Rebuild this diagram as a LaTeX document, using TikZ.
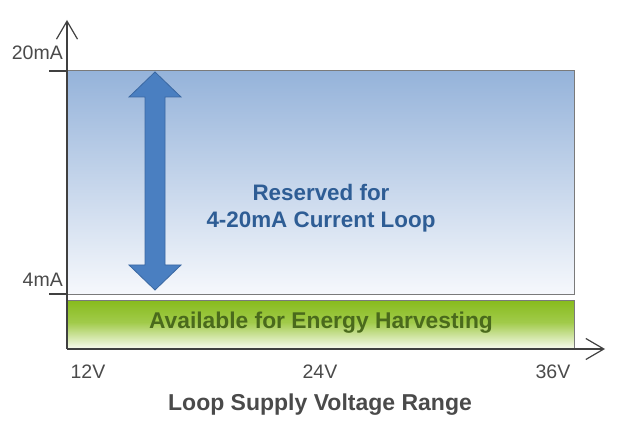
\documentclass[tikz,border=0pt]{standalone}
\usepackage{fontspec}
\setmainfont{Liberation Sans}
\usetikzlibrary{arrows.meta}
\definecolor{axisgrey}{HTML}{404040}
\definecolor{labgrey}{HTML}{4A4A4A}
\definecolor{bluetop}{HTML}{95B3DA}
\definecolor{bluebot}{HTML}{F6F8FC}
\definecolor{greentop}{HTML}{88BC1E}
\definecolor{greenmid}{HTML}{A2CB4C}
\definecolor{greenbot}{HTML}{FAFCF2}
\definecolor{arrowfill}{HTML}{4A7FC1}
\definecolor{arrowdraw}{HTML}{3A68A2}
\definecolor{bluetext}{HTML}{2E5D95}
\definecolor{greentext}{HTML}{4A6A1C}
\definecolor{boxedge}{HTML}{7A7A7A}
\begin{document}
\begin{tikzpicture}[x=1pt,y=1pt,
  axisline/.style={draw=axisgrey,line width=1.2pt},
  axlabel/.style={text=labgrey,font=\fontsize{19.5}{21}\selectfont,inner sep=0pt},
  boxline/.style={draw=boxedge,line width=1pt}]
\useasboundingbox (0,0) rectangle (630,429);
% boxes
\shade[top color=bluetop,bottom color=bluebot] (67,134) rectangle (574,358);
\draw[boxline] (67,134) rectangle (574,358);
\shade[top color=greentop,bottom color=greenmid] (67,106) rectangle (574,128);
\shade[top color=greenmid,bottom color=greenbot] (67,80) rectangle (574,106.5);
\draw[boxline] (67,80) rectangle (574,128);
% axes
\coordinate (O) at (67,80);
\coordinate (ytop) at (67,409);
\coordinate (xend) at (605,80);
\draw[axisline,-{Straight Barb[length=18pt,width=21pt,line width=1.2pt]}] (O) -- (ytop);
\draw[axisline,-{Straight Barb[length=18pt,width=21pt,line width=1.2pt]}] (O) -- (xend);
% ticks
\coordinate (t20a) at (49,358); \coordinate (t20b) at (67,358);
\coordinate (t4a) at (49,135); \coordinate (t4b) at (67,135);
\draw[axisline] (t20a) -- (t20b);
\draw[axisline] (t4a) -- (t4b);
\node[axlabel,anchor=east] (l20) at (63,376) {20mA};
\node[axlabel,anchor=east] (l4) at (63,149) {4mA};
\node[axlabel] (v12) at (88,57) {12V};
\node[axlabel] (v24) at (320,57) {24V};
\node[axlabel] (v36) at (553,57) {36V};
\node[text=labgrey,font=\fontsize{23}{25}\selectfont\bfseries,inner sep=0pt] (title) at (320,24) {Loop Supply Voltage Range};
% double arrow
\draw[fill=arrowfill,draw=arrowdraw,line width=0.8pt,line join=miter]
  (155,357) -- (181,332) -- (165,332) -- (165,164) -- (181,164) -- (155,139)
  -- (129,164) -- (145,164) -- (145,332) -- (129,332) -- cycle;
% texts
\node[text=bluetext,font=\fontsize{22.4}{27}\selectfont\bfseries,align=center,inner sep=0pt] (res) at (321,221) {Reserved for\\4-20mA Current Loop};
\node[text=greentext,font=\fontsize{22.8}{24}\selectfont\bfseries,inner sep=0pt] (avail) at (321,106) {Available for Energy Harvesting};
\end{tikzpicture}
\end{document}
